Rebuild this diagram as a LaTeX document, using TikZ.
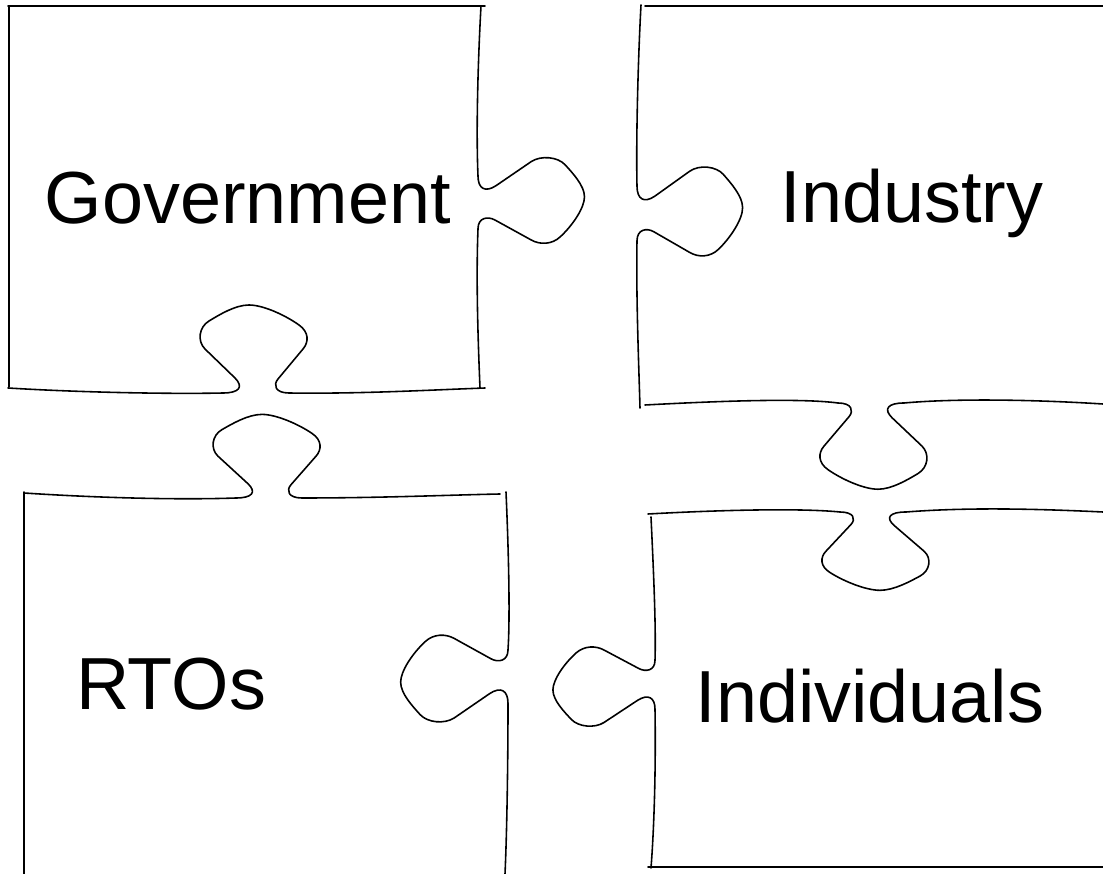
\documentclass[tikz,border=0pt]{standalone}
\usepackage{fontspec}
\setmainfont{Liberation Sans}

\begin{document}
\begin{tikzpicture}[
    x=0.02cm, y=-0.02cm,
    outline/.style={line width=0.9pt, line cap=round, line join=round},
    piecetext/.style={anchor=base, inner sep=0pt, font=\fontsize{42}{50}\selectfont},
    knob/.pic={
        \coordinate (-a) at (-30,0);
        \coordinate (-b) at (36,0);
        \draw[outline] (-30,0) .. controls (-14,0) and (-9,6) .. (-18,15)
            -- (-48,44)
            .. controls (-56,52) and (-54,66) .. (-44,72)
            .. controls (-34,78) and (-18,88) .. (-4,88)
            .. controls (10,88) and (32,78) .. (46,68)
            .. controls (56,61) and (56,51) .. (50,44)
            -- (25,14)
            .. controls (20,8) and (22,0) .. (36,0);
    }
]
\useasboundingbox (0,0) rectangle (1103,874);

% Government
\pic[yscale=-1] (gn) at (253,393) {knob};
\pic[rotate=90, xscale=-0.8, yscale=1.21] (gt) at (478,200) {knob};
\draw[outline] (8,6) -- (485,6);
\draw[outline] (9,6) -- (9,387);
\draw[outline] (8,388) .. controls (90,393) and (180,394) .. (gn-a);
\draw[outline] (gn-b) .. controls (360,394) and (430,390) .. (485,388);
\draw[outline] (481,6) .. controls (478,60) and (476,130) .. (gt-a);
\draw[outline] (gt-b) .. controls (476,280) and (478,340) .. (480,388);
\node[piecetext] (gov) at (248,224) {Government};

% Industry
\pic[rotate=90, xscale=-0.83, yscale=1.2] (in) at (637,211) {knob};
\pic[xscale=-1, yscale=0.98] (it) at (874,403) {knob};
\draw[outline] (645,6) -- (1103,6);
\draw[outline] (641,5) .. controls (638,60) and (636,140) .. (in-a);
\draw[outline] (in-b) .. controls (636,300) and (639,370) .. (640,408);
\draw[outline] (645,405) .. controls (720,401) and (800,398) .. (it-b);
\draw[outline] (it-a) .. controls (960,398) and (1040,400) .. (1103,404);
\node[piecetext] (ind) at (912,223) {Industry};

% RTOs
\pic[yscale=-0.95] (rt) at (266,498) {knob};
\pic[rotate=-90, xscale=-0.81, yscale=1.22] (rn) at (508,679) {knob};
\draw[outline] (24,493) .. controls (100,498) and (180,500) .. (rt-a);
\draw[outline] (rt-b) .. controls (380,498) and (450,495) .. (500,494);
\draw[outline] (24,492) -- (24,874);
\draw[outline] (506,492) .. controls (509,560) and (510,620) .. (rn-b);
\draw[outline] (rn-a) .. controls (508,760) and (507,830) .. (505,874);
\node[piecetext] (rto) at (171,710) {RTOs};

% Individuals
\pic[xscale=-1, yscale=0.89] (vn) at (876,512) {knob};
\pic[rotate=-90, xscale=-0.74, yscale=1.16] (vt) at (655,687) {knob};
\draw[outline] (648,514) .. controls (720,510) and (800,508) .. (vn-b);
\draw[outline] (vn-a) .. controls (970,507) and (1040,509) .. (1103,512);
\draw[outline] (651,517) .. controls (654,580) and (656,630) .. (vt-b);
\draw[outline] (vt-a) .. controls (656,770) and (654,830) .. (651,868);
\draw[outline] (648,867) -- (1103,867);
\node[piecetext] (indiv) at (870,723) {Individuals};
\end{tikzpicture}
\end{document}
